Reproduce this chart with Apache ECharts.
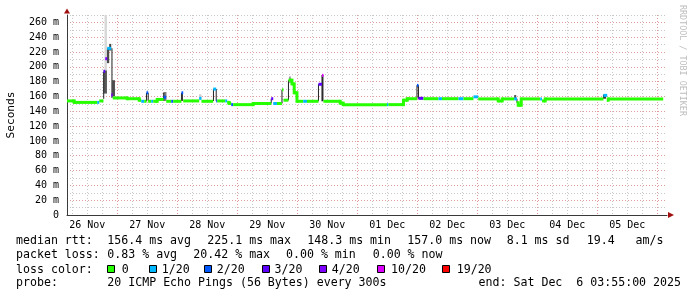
<!DOCTYPE html>
<html><head><meta charset="utf-8">
<script src="https://cdn.jsdelivr.net/npm/echarts@6/dist/echarts.min.js"></script>
<style>html,body{margin:0;padding:0;background:#fff}#c{width:697px;height:297px}</style>
</head><body><div id="c"></div>
<script>
// ---------- data (hours since 26 Nov 2025 00:00) ----------
const dayLabels = ['26 Nov','27 Nov','28 Nov','29 Nov','30 Nov','01 Dec','02 Dec','03 Dec','04 Dec','05 Dec'];
const xStart = 3 + 55/60;           // 26 Nov 03:55
const xEnd = xStart + 240;          // 06 Dec 03:55
const yMax = 270;

// median rtt (ms) as steps: start hour, value, loss colour index
const segStart = [3.92,6.8,16.0,16.8,18.5,19.2,20.0,21.6,22.2,28.0,32.8,33.6,34.8,35.7,36.4,37.6,38.4,40.0,42.6,43.6,45.6,46.4,49.7,50.4,56.8,57.7,62.4,63.6,64.0,67.2,68.0,68.8,69.6,70.4,78.4,85.6,86.4,87.9,89.9,90.5,92.5,93.9,94.8,95.9,98.4,99.9,104.5,105.9,106.5,113.2,114.4,131.9,132.5,138.5,140.0,143.9,144.5,146.5,152.5,153.9,160.5,162.5,166.5,168.4,176.4,178.0,182.8,183.9,184.4,185.6,193.2,193.9,195.2,218.5,220.0,220.4];
const segMedian = [154,152,152,154,194,211,225,162,158,157,155,153.5,153.5,165,153.5,153.5,153.5,156,159,153.5,153.5,153.5,165,154,157.5,153.5,170,154,154,154,152,150.5,149,149,150.5,157,150.5,150.5,169,155,182,177,165,153.5,153.5,153.5,176.5,188.5,153.5,151,149,149,149,155,157,175,157.5,157,157,157,157,157,159.5,156.7,154,156.7,156.7,151.5,148.2,156.7,156.7,154,156.7,161.5,155,156.7];
const segLoss = [0,0,1,0,3,4,1,4,0,0,0,1,0,2,0,1,0,0,2,0,2,0,2,0,1,0,1,2,0,1,0,0,2,0,0,3,1,0,0,0,0,0,0,0,1,0,3,5,0,0,0,1,0,0,0,2,3,0,1,0,1,0,1,0,0,0,1,0,0,0,1,0,0,1,0,0];
const segEnd = 242.4;

// smoke (ping spread): centre hour, low ms, high ms, width hours, shade
const smokeHour  = [19.4,19.2,18.6,20.35,21.2,21.9,22.5,35.7,36.4,43.1,42.6,49.9,57.2,62.5,63.6,85.6,89.9,92.5,93.1,104.5,106.1,143.9,144.5,183.2,183.9,185.6,218.9];
const smokeLow   = [164,164,157,205,222,158,160,153.5,153.5,154,154,154,155,154,154,150.5,150.5,155,178,153.5,153.5,157,157,157,151.5,148,157];
const smokeHigh  = [272,195,193,225,231,225,182,165,165,166,165,165,163,170,170,157,169,182,187,176.5,189,175,175,162,157,157,162.5];
const smokeWidth = [1.0,1.4,0.4,0.9,0.8,0.4,1.2,0.4,0.4,1.2,0.4,0.8,1.0,0.4,0.4,0.4,0.4,0.4,0.8,0.4,0.8,0.4,0.4,0.8,0.4,0.4,1.2];
const smokeShade = ['#d8d8d8','#5a5a5a','#222','#4a4a4a','#444','#222','#4d4d4d','#222','#222','#7a7a7a','#222','#333','#cfcfcf','#222','#222','#222','#222','#222','#a0a0a0','#222','#2a2a2a','#222','#222','#555','#222','#222','#333'];

const lossLabels = ['0','1/20','2/20','3/20','4/20','10/20','19/20'];
const lossColors = ['#26ff00','#00b8ff','#0059ff','#5e00ff','#7e00ff','#dd00ff','#ff0000'];

const rttStats  = ['156.4 ms avg','225.1 ms max','148.3 ms min','157.0 ms now','8.1 ms sd','19.4   am/s'];
const lossStats = ['0.83 % avg','20.42 % max','0.00 % min','0.00 % now'];
const probeText = '20 ICMP Echo Pings (56 Bytes) every 300s';
const endText = 'end: Sat Dec  6 03:55:00 2025';

// ---------- build ----------
const minorTicks = [], midnights = [], noons = [];
for (let h = 0; h <= 264; h += 6) {
  if (h < xStart || h > xEnd) continue;
  if (h % 24 === 0) midnights.push(h); else minorTicks.push(h);
}
dayLabels.forEach((d, i) => noons.push(12 + 24 * i));

const medianData = segStart.map((s, i) => [
  s, i + 1 < segStart.length ? segStart[i + 1] : segEnd, segMedian[i], segLoss[i],
  i > 0 ? segMedian[i - 1] : segMedian[i], i > 0 ? segLoss[i - 1] : segLoss[i]
]);
const smokeData = smokeHour.map((h, i) => [h, smokeLow[i], smokeHigh[i], smokeWidth[i]]);

const MONO = '"DejaVu Sans Mono", monospace';
const gridMinor = '#c8c8c8', gridMajor = '#e39b9b', axisCol = '#3a3a3a', arrowCol = '#a11010';

const chart = echarts.init(document.getElementById('c'), null, {renderer: 'canvas'});

const graphics = [];
const LX = 16, CX = 107.3;
function txt(x, y, s, align) {
  graphics.push({type: 'text', x: x, y: y, silent: true,
    style: {text: s, font: '11.6px ' + MONO, fill: '#000', align: align || 'left', verticalAlign: 'middle',
            textAlign: align || 'left', textVerticalAlign: 'middle'}});
}
txt(LX, 241, 'median rtt:');
[CX, 207.3, 307.3, 407.3, 506.7, 586.7].forEach((x, i) => txt(x, 241, rttStats[i]));
txt(LX, 255, 'packet loss:');
[CX, 193.3, 286, 372.7].forEach((x, i) => txt(x, 255, lossStats[i]));
txt(LX, 269.5, 'loss color:');
const boxX = [107.3, 149.3, 204.3, 262, 319.3, 376.7, 442.3];
const labOff = [14.4, 12.5, 12.5, 12.5, 12.5, 14.4, 14.4];
boxX.forEach((x, i) => {
  graphics.push({type: 'rect', silent: true, shape: {x: Math.round(x) + 0.5, y: 265.5, width: 7, height: 7},
    style: {fill: lossColors[i], stroke: '#000', lineWidth: 1}});
  txt(x + labOff[i], 269.5, lossLabels[i]);
});
txt(LX, 283, 'probe:');
txt(CX, 283, probeText);
txt(681, 283, endText, 'right');
graphics.push({type: 'text', x: 682, y: 5, rotation: -Math.PI / 2, silent: true,
  style: {text: 'RRDTOOL / TOBI OETIKER', font: '8.4px ' + MONO, fill: '#bdbdbd', align: 'left', verticalAlign: 'middle',
          textAlign: 'left', textVerticalAlign: 'middle'}});

chart.setOption({
  animation: false,
  backgroundColor: '#ffffff',
  grid: {left: 67, top: 15, width: 600, height: 200, containLabel: false, outerBoundsMode: 'none'},
  xAxis: [
    {type: 'value', min: xStart, max: xEnd, position: 'bottom',
      axisLine: {show: true, onZero: false, lineStyle: {color: axisCol, width: 1}},
      axisTick: {show: false, customValues: minorTicks},
      axisLabel: {show: false},
      splitLine: {show: true, lineStyle: {color: gridMinor, type: [1, 2], width: 1}}},
    {type: 'value', min: xStart, max: xEnd, position: 'bottom',
      axisLine: {show: true, onZero: false, symbol: ['none', 'triangle'], symbolSize: [6, 6], symbolOffset: [0, 4],
        lineStyle: {color: arrowCol, width: 0}},
      axisTick: {show: false, customValues: midnights},
      axisLabel: {show: true, customValues: noons, margin: 5, fontFamily: MONO, fontSize: 10, color: '#000',
        formatter: v => dayLabels[Math.round((v - 12) / 24)] || ''},
      splitLine: {show: true, lineStyle: {color: gridMajor, type: [1, 2], width: 1}}}
  ],
  yAxis: [
    {type: 'value', min: 0, max: yMax, interval: 10, position: 'left',
      name: 'Seconds', nameLocation: 'middle', nameRotate: 90, nameGap: 50,
      nameTextStyle: {fontFamily: MONO, fontSize: 11.2, color: '#000'},
      axisLine: {show: true, onZero: false, lineStyle: {color: axisCol, width: 1}},
      axisTick: {show: false},
      axisLabel: {margin: 8, fontFamily: MONO, fontSize: 10, color: '#000',
        formatter: v => (v % 20 === 0 ? (v === 0 ? '0' : v + ' m') : '')},
      splitLine: {show: true, lineStyle: {color: [gridMajor, gridMinor], type: [1, 2], width: 1}}},
    {type: 'value', min: 0, max: yMax, position: 'left',
      axisLine: {show: true, onZero: false, symbol: ['none', 'triangle'], symbolSize: [6, 5], symbolOffset: [0, 4],
        lineStyle: {color: arrowCol, width: 0}},
      axisTick: {show: false}, axisLabel: {show: false}, splitLine: {show: false}}
  ],
  series: [
    {type: 'custom', name: 'smoke', xAxisIndex: 0, yAxisIndex: 0, clip: true, z: 3,
      encode: {x: 0, y: [1, 2]}, data: smokeData,
      renderItem: (params, api) => {
        const h = api.value(0), w = api.value(3);
        const a = api.coord([h - w / 2, api.value(2)]);
        const b = api.coord([h + w / 2, api.value(1)]);
        return {type: 'rect', shape: {x: a[0], y: a[1], width: Math.max(1, b[0] - a[0]), height: b[1] - a[1]},
          style: {fill: smokeShade[params.dataIndex]}};
      }},
    {type: 'custom', name: 'median', xAxisIndex: 0, yAxisIndex: 0, clip: true, z: 4,
      encode: {x: [0, 1], y: 2}, data: medianData,
      renderItem: (params, api) => {
        const t0 = api.value(0), t1 = api.value(1), v = api.value(2), li = api.value(3), pv = api.value(4), pl = api.value(5);
        const p0 = api.coord([t0, v]), p1 = api.coord([t1, v]);
        const col = lossColors[li];
        const ch = [{type: 'rect', shape: {x: p0[0], y: p0[1] - 1.5, width: p1[0] - p0[0], height: 3}, style: {fill: col}}];
        if (pl === li && pv !== v && Math.abs(pv - v) <= 13) {
          const q = api.coord([t0, pv]);
          ch.push({type: 'rect', shape: {x: p0[0] - 1.5, y: Math.min(q[1], p0[1]) - 1.5, width: 3, height: Math.abs(q[1] - p0[1]) + 3},
            style: {fill: col}});
        }
        return {type: 'group', children: ch};
      }}
  ],
  graphic: graphics
});
</script>
</body></html>
